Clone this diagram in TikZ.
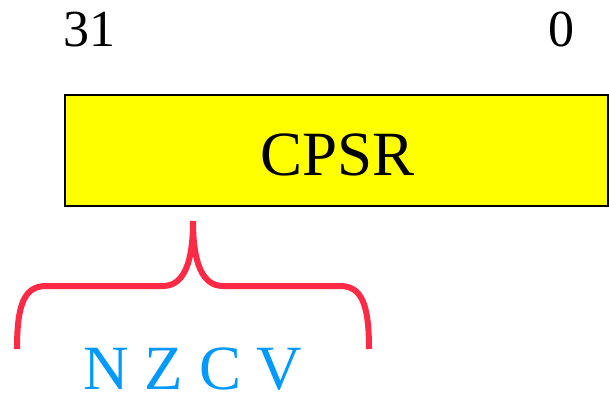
\documentclass[tikz,border=0pt]{standalone}
\usepackage{fontspec}
\newfontfamily\timesfont{Liberation Serif}
\definecolor{bracered}{RGB}{255,42,70}
\definecolor{flagblue}{RGB}{0,153,255}
\definecolor{regyellow}{RGB}{255,255,0}
\begin{document}
\begin{tikzpicture}[x=1pt,y=-1pt,
  bitlabel/.style={anchor=base,inner sep=0pt,font=\timesfont\fontsize{52}{60}\selectfont},
  regbox/.style={draw=black,line width=2pt,fill=regyellow,inner sep=0pt},
  bracestyle/.style={draw=bracered,line width=6pt,line cap=butt},
  flags/.style={anchor=base,inner sep=0pt,text=flagblue,font=\timesfont\fontsize{63}{72}\selectfont}]
\useasboundingbox (0,0) rectangle (609,396);
\node[regbox,minimum width=543pt,minimum height=111pt] (cpsr) at (336,150.5) {};
\node[anchor=base,inner sep=0pt,font=\timesfont\fontsize{63}{72}\selectfont] (cpsrtext) at (337.5,175) {CPSR};
\node[bitlabel] (b31) at (89.5,47) {31};
\node[bitlabel] (b0) at (561,46) {0};
\coordinate (bl) at (17,349);
\coordinate (br) at (369,349);
\coordinate (tip) at (193,221);
\path[bracestyle] (bl) .. controls (17,305) and (24,286) .. (46,286) -- (163,286)
  .. controls (185,286) and (193,260) .. (tip)
  .. controls (193,260) and (201,286) .. (223,286) -- (340,286)
  .. controls (362,286) and (369,305) .. (br);
\node[flags] (nzcv) at (193,389) {N Z C V};
\end{tikzpicture}
\end{document}
